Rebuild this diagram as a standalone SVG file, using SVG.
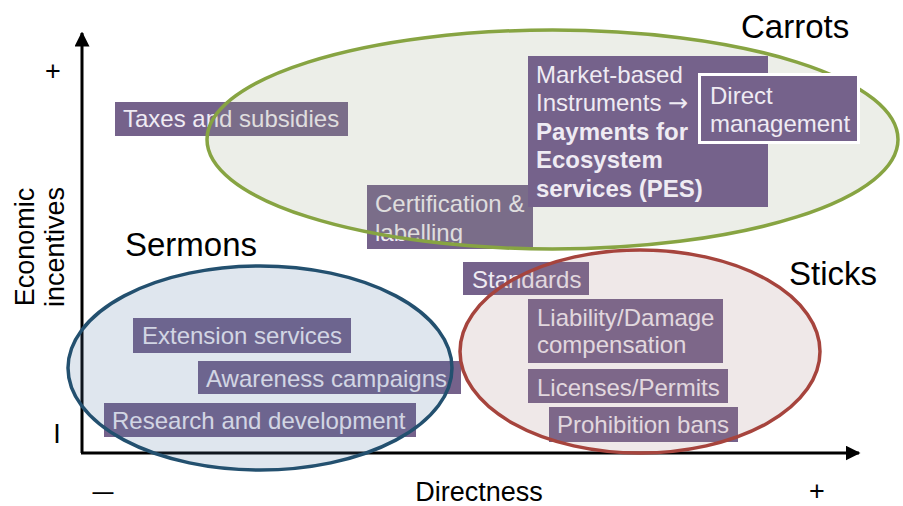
<svg xmlns="http://www.w3.org/2000/svg" width="903" height="506" viewBox="0 0 903 506">
<style>
text{font-family:"Liberation Sans",Arial,sans-serif;}
.box{fill:#75628b;}
.bt{fill:#efebf3;font-size:24px;}
.bb{fill:#efebf3;font-size:24px;font-weight:bold;}
.lbl{fill:#000;font-size:33px;}
.ax{fill:#000;font-size:27px;}
.axis{stroke:#000;stroke-width:3;fill:none;}
.arr{font-family:"DejaVu Sans",sans-serif;font-size:24px;}
</style>
<defs>
<marker id="ah" viewBox="0 0 10 10" refX="9" refY="5" markerWidth="5" markerHeight="5" orient="auto" markerUnits="strokeWidth">
<path d="M0,0 L10,5 L0,10 z" fill="#000"/>
</marker>
</defs>
<rect width="903" height="506" fill="#fff"/>

<g id="connectors">
<line class="axis" x1="82" y1="453" x2="82" y2="33" marker-end="url(#ah)"/>
<line class="axis" x1="81" y1="453" x2="859" y2="453" marker-end="url(#ah)"/>
</g>

<g id="axis-labels">
<text class="ax" x="53" y="80" text-anchor="middle" font-size="34">+</text>
<text class="ax" x="57" y="443" text-anchor="middle" font-size="28">I</text>
<text class="ax" x="103" y="500" text-anchor="middle" font-size="24" textLength="21" lengthAdjust="spacingAndGlyphs">–</text>
<text class="ax" x="817" y="500" text-anchor="middle" font-size="32">+</text>
<text class="ax" x="479" y="501" text-anchor="middle">Directness</text>
<g transform="translate(34,247) rotate(-90)">
<text class="ax" x="0" y="0" text-anchor="middle">Economic</text>
<text class="ax" x="0" y="30" text-anchor="middle">incentives</text>
</g>
</g>

<g id="taxes">
<rect class="box" x="115" y="102" width="233" height="34"/>
<text class="bt" x="123" y="127">Taxes and subsidies</text>
</g>
<g id="certification">
<rect class="box" x="367" y="185" width="166" height="64"/>
<text class="bt" x="375" y="212">Certification &amp;</text>
<text class="bt" x="375" y="241">labelling</text>
</g>
<g id="extension">
<rect class="box" x="133" y="318" width="218" height="35"/>
<text class="bt" x="142" y="344">Extension services</text>
</g>
<g id="awareness">
<rect class="box" x="198" y="361" width="263" height="33"/>
<text class="bt" x="206" y="387">Awareness campaigns</text>
</g>
<g id="research">
<rect class="box" x="104" y="403" width="312" height="34"/>
<text class="bt" x="112" y="429">Research and development</text>
</g>
<g id="standards">
<rect class="box" x="463" y="262" width="126" height="33"/>
<text class="bt" x="472" y="288">Standards</text>
</g>
<g id="liability">
<rect class="box" x="528" y="299" width="195" height="64"/>
<text class="bt" x="537" y="326">Liability/Damage</text>
<text class="bt" x="537" y="353">compensation</text>
</g>
<g id="licenses">
<rect class="box" x="528" y="369" width="200" height="34"/>
<text class="bt" x="537" y="396">Licenses/Permits</text>
</g>
<g id="prohibition">
<rect class="box" x="549" y="407" width="189" height="35"/>
<text class="bt" x="557" y="433">Prohibition bans</text>
</g>

<g id="carrots">
<ellipse cx="552.5" cy="139.5" rx="345.5" ry="109.5" fill="#96a180" fill-opacity="0.18" stroke="#87a442" stroke-width="3.5"/>
<text class="lbl" x="741" y="38">Carrots</text>
</g>
<g id="sermons">
<ellipse cx="260" cy="368" rx="192" ry="102" fill="#4e75a1" fill-opacity="0.18" stroke="#23506f" stroke-width="3.5"/>
<text class="lbl" x="125" y="256">Sermons</text>
</g>
<g id="sticks">
<ellipse cx="640" cy="351.5" rx="180" ry="101.5" fill="#a78080" fill-opacity="0.18" stroke="#a6443d" stroke-width="3.5"/>
<text class="lbl" x="789" y="285">Sticks</text>
</g>

<g id="market">
<rect class="box" x="528" y="56" width="240" height="151"/>
<text class="bt" x="536" y="83">Market-based</text>
<text class="bt" x="536" y="111">Instruments <tspan class="arr">→</tspan></text>
<text class="bb" x="536" y="140">Payments for</text>
<text class="bb" x="536" y="168">Ecosystem</text>
<text class="bb" x="536" y="197">services (PES)</text>
</g>
<g id="direct">
<rect class="box" x="699.5" y="74.5" width="159" height="68" stroke="#fff" stroke-width="3"/>
<text class="bt" x="710" y="104">Direct</text>
<text class="bt" x="710" y="132">management</text>
</g>
</svg>
